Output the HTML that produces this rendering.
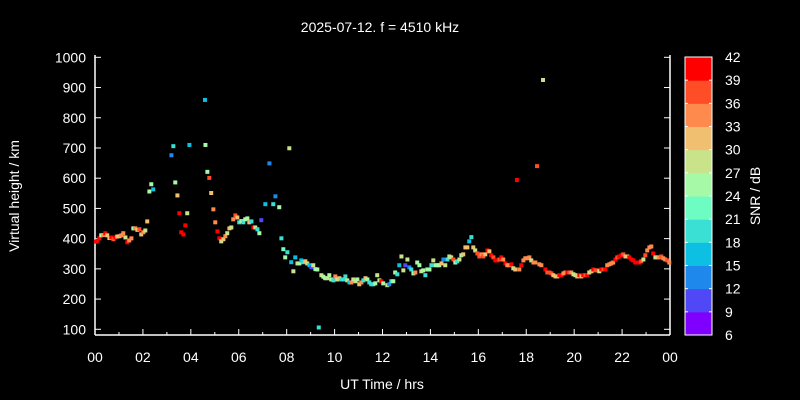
<!DOCTYPE html>
<html><head><meta charset="utf-8"><style>
html,body{margin:0;padding:0;background:#000;}
svg{display:block;font-family:"Liberation Sans",sans-serif;}
</style></head><body>
<svg id="chart" width="800" height="400" viewBox="0 0 800 400" xmlns="http://www.w3.org/2000/svg">
<rect width="800" height="400" fill="#000"/>
<text x="380" y="32" fill="#fff" font-size="14" text-anchor="middle">2025-07-12. f = 4510 kHz</text>
<text x="382" y="389" fill="#fff" font-size="14" text-anchor="middle">UT Time / hrs</text>
<text transform="translate(19,196) rotate(-90)" fill="#fff" font-size="14" text-anchor="middle">Virtual height / km</text>
<text transform="translate(760,196) rotate(-90)" fill="#fff" font-size="14" text-anchor="middle">SNR / dB</text>
<g id="axes"></g>
<g id="marks"></g>
<g id="cbar"></g>
</svg>
<script>
const hours=[0.04,0.10,0.18,0.26,0.35,0.43,0.51,0.60,0.68,0.77,0.85,0.93,1.02,1.10,1.18,1.27,1.35,1.43,1.52,1.60,1.68,1.77,1.85,1.93,2.02,2.10,2.18,2.27,2.35,2.43,3.19,3.27,3.35,3.44,3.52,3.60,3.69,3.77,3.85,3.94,4.61,4.69,4.77,4.85,4.94,5.02,5.11,5.19,5.27,5.36,5.44,5.52,5.61,5.69,5.77,5.86,5.94,6.02,6.11,6.19,6.27,6.36,6.44,6.53,6.61,6.69,6.78,6.86,6.94,7.11,7.28,7.44,7.53,7.69,7.78,7.86,7.94,8.03,8.11,8.19,8.28,8.36,8.45,8.53,8.61,8.70,8.78,8.86,8.95,9.03,9.11,9.20,9.34,4.59,18.70,18.45,17.61,
9.28,9.45,9.53,9.61,9.70,9.78,9.86,9.95,10.03,10.11,10.20,10.28,10.37,10.45,10.53,10.62,10.70,10.78,10.87,10.95,11.03,11.12,11.20,11.29,11.37,11.45,11.53,11.62,11.70,11.78,11.87,11.95,12.03,12.20,12.28,12.37,12.45,12.53,12.62,12.70,12.79,12.87,12.95,13.04,13.12,13.20,13.29,13.37,13.45,13.54,13.62,13.70,13.79,13.87,13.96,14.04,14.12,14.21,14.29,14.37,14.46,14.54,14.62,14.71,14.79,14.87,14.96,15.04,15.12,15.21,15.29,15.37,15.46,15.54,15.62,15.71,15.79,15.87,15.96,16.04,16.13,16.21,16.29,16.38,16.46,16.54,16.63,16.71,16.79,16.88,16.96,17.04,17.13,17.21,17.29,17.38,17.46,17.54,17.71,17.79,17.88,17.96,18.05,18.13,18.21,18.30,18.38,18.55,18.63,18.80,18.88,18.97,19.05,19.13,19.22,19.30,19.38,19.47,19.55,19.63,19.72,19.80,19.88,19.97,20.05,20.13,20.22,20.30,20.38,20.47,20.55,20.63,20.72,20.80,20.89,20.97,21.05,21.13,21.22,21.30,21.38,21.47,21.55,21.63,21.72,21.80,21.88,21.97,22.05,22.14,22.22,22.30,22.39,22.47,22.55,22.64,22.72,22.80,22.89,22.97,23.05,23.14,23.22,23.30,23.39,23.47,23.55,23.64,23.72,23.80,23.89,23.97];
const heights=[390,393,401,411,412,418,411,402,404,398,404,407,408,411,418,404,388,394,401,434,434,429,431,414,421,427,457,556,580,563,676,706,586,543,484,421,414,444,484,710,710,621,601,551,497,454,424,401,391,398,408,418,434,437,464,477,470,454,458,454,464,467,454,457,437,437,431,418,461,514,649,514,540,504,401,365,338,355,699,322,292,338,318,318,328,322,325,318,312,305,312,299,106,859,925,640,594,
298,279,274,269,269,279,265,262,275,265,269,265,265,275,262,255,255,265,259,265,249,255,262,269,265,255,249,249,252,279,262,259,252,246,249,259,259,288,282,312,341,295,312,331,305,298,285,288,321,312,292,295,279,298,298,312,328,312,312,312,318,331,312,331,341,338,331,321,325,331,345,348,371,371,391,405,371,361,351,341,348,341,348,361,358,345,338,328,328,331,338,331,318,312,312,315,302,298,298,312,328,335,335,338,328,321,321,315,312,298,288,288,285,279,275,275,279,279,285,288,288,288,288,282,279,275,279,275,279,279,279,288,292,298,295,295,292,298,298,298,312,315,318,321,331,338,341,345,348,341,341,338,331,328,321,321,321,325,331,345,361,371,374,351,338,338,338,341,335,331,328,321];
const snr=[41,41,41,26,35,41,32,32,40,38,40,32,32,35,35,29,41,35,35,26,35,32,38,32,35,29,32,24,24,16,13,19,24,32,39,41,41,39,28,16,24,24,37,32,35,35,41,41,29,32,35,29,32,29,35,38,32,20,24,20,24,24,32,20,40,29,20,24,10,16,13,20,13,24,20,23,24,20,28,16,28,16,28,24,16,20,32,28,16,10,28,24,20,16,28,38,40,
24,29,24,24,29,24,24,20,35,29,32,20,20,20,29,16,35,29,29,24,32,35,20,32,24,20,20,20,24,29,29,41,24,29,13,20,24,24,20,16,29,29,10,29,13,20,24,35,24,24,29,24,20,24,24,20,29,24,24,24,32,13,29,20,29,29,38,24,20,29,24,32,32,32,16,20,32,29,38,38,35,38,32,41,32,41,38,41,41,38,41,35,41,35,35,41,29,32,35,41,35,35,35,35,29,35,35,35,35,41,38,38,38,32,32,32,41,41,35,35,41,38,35,29,29,32,41,32,41,38,41,29,32,41,38,38,29,41,38,41,35,35,35,35,41,38,41,41,38,32,32,41,41,41,41,41,41,38,29,38,35,35,35,41,29,32,35,38,35,35,38,35];
const xTicks=[0,2,4,6,8,10,12,14,16,18,20,22,24];
const xTickLabels=["00","02","04","06","08","10","12","14","16","18","20","22","00"];
const yTicks=[100,200,300,400,500,600,700,800,900,1000];
const cbLevels=[6,9,12,15,18,21,24,27,30,33,36,39,42];
const cbColors=["#8000ff","#5048f6","#1f88ec","#0dc0e3","#3ae0d4","#6dfdc2","#a6f9a6","#c8e38a","#f0c070","#ff8a4d","#ff4d28","#ff0000"];

const NS="http://www.w3.org/2000/svg";
const X0=95,X1=670,YB=335;
const xs=h=>X0+h*(X1-X0)/24;
const ys=k=>329.3-(k-100)*0.3022;
const cb=v=>cbColors[Math.max(0,Math.min(11,Math.floor((v-6)/3)))];
function mk(tag,attrs,parent){const e=document.createElementNS(NS,tag);for(const k in attrs)e.setAttribute(k,attrs[k]);parent.appendChild(e);return e;}
const axes=document.getElementById('axes');
const marks=document.getElementById('marks');
const cbar=document.getElementById('cbar');
const W='#fff';
let e;
e=mk('line',{x1:X0,y1:YB,x2:X1,y2:YB,stroke:W,'stroke-width':1.5},axes);

e=mk('line',{x1:X0,y1:55,x2:X0,y2:YB,stroke:W,'stroke-width':1.5},axes);

e=mk('line',{x1:X1,y1:55,x2:X1,y2:YB,stroke:W,'stroke-width':1.5},axes);

for(let h=1;h<24;h+=2){mk('line',{x1:xs(h),y1:YB,x2:xs(h),y2:YB-3,stroke:W},axes);}
xTicks.forEach((t,i)=>{
  mk('line',{x1:xs(t),y1:YB,x2:xs(t),y2:YB-6,stroke:W},axes);
  const tx=mk('text',{x:xs(t),y:362,fill:W,'font-size':14,'text-anchor':'middle'},axes);
  tx.textContent=xTickLabels[i];
  
  
});
yTicks.forEach(t=>{
  mk('line',{x1:X0,y1:ys(t),x2:X0+6,y2:ys(t),stroke:W},axes);
  mk('line',{x1:X1,y1:ys(t),x2:X1-6,y2:ys(t),stroke:W},axes);
  const tx=mk('text',{x:86,y:ys(t)+5,fill:W,'font-size':14,'text-anchor':'end'},axes);
  tx.textContent=t;
  
  
});
hours.forEach((h,i)=>{
  const r=mk('rect',{x:xs(h)-2,y:ys(heights[i])-2,width:4,height:4,fill:cb(snr[i])},marks);
  
  
});
const CX=685,CW=27,CT=57,CBt=335;
const bh=(CBt-CT)/cbColors.length;
cbColors.forEach((c,i)=>{
  const r=mk('rect',{x:CX,y:CBt-(i+1)*bh,width:CW,height:bh+0.5,fill:c},cbar);
  
  
});
mk('rect',{x:CX,y:CT,width:CW,height:CBt-CT,fill:'none',stroke:W,'stroke-width':1},cbar);
cbLevels.forEach((v,i)=>{
  const y=CBt-i*bh;
  mk('line',{x1:CX,y1:y,x2:CX+3,y2:y,stroke:W},cbar);
  mk('line',{x1:CX+CW,y1:y,x2:CX+CW-3,y2:y,stroke:W},cbar);
  const tx=mk('text',{x:725,y:y+5,fill:W,'font-size':14},cbar);
  tx.textContent=v;
  
  
});
</script>
</body></html>
